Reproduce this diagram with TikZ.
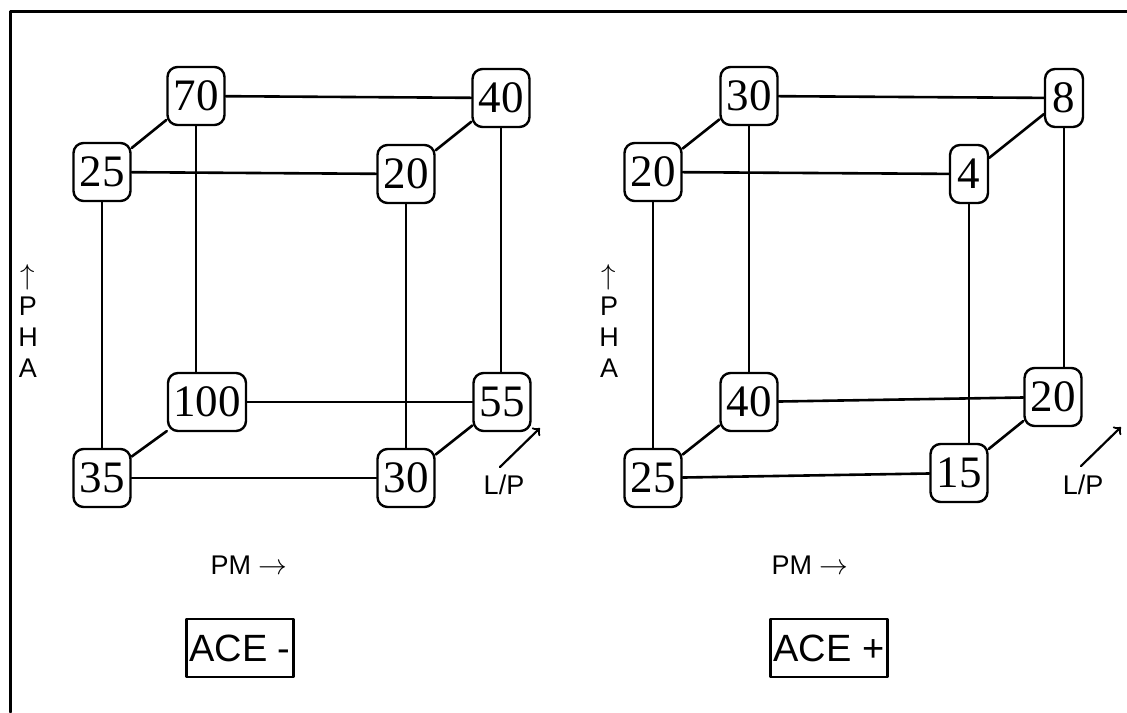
\documentclass[tikz,border=0pt]{standalone}
\usepackage{fontspec}
\setmainfont{Liberation Serif}
\newfontfamily\arialfont{Liberation Sans}
\begin{document}
\begin{tikzpicture}[x=0.5pt, y=-0.5pt, line join=round, line cap=round, >=to,
		val/.style={draw, line width=1.2pt, rounded corners=5pt, inner sep=0pt, minimum height=29pt, minimum width=28.5pt, font=\fontsize{22.5}{22.5}\selectfont},
		slim/.style={val, minimum width=19pt},
		wide/.style={val, minimum width=39pt},
		edge/.style={line width=1.3pt},
		lbl/.style={font=\arialfont\fontsize{13.5}{15.5}\selectfont, align=center, inner sep=0pt},
		tag/.style={draw, line width=1.2pt, inner sep=1.5pt, minimum height=29pt, font=\arialfont\fontsize{19}{19}\selectfont}]
	\useasboundingbox (0,0) rectangle (1127,712);
	\draw[line width=1.5pt] (10,712) -- (10,11) -- (1127,11);
	% ACE - cube
	\node[val] (L-btl) at (196,96) {70};
	\node[val] (L-btr) at (501,98) {40};
	\node[val] (L-ftl) at (102,172) {25};
	\node[val] (L-ftr) at (406,174) {20};
	\node[wide] (L-bbl) at (207,402) {100};
	\node[val] (L-bbr) at (502,402) {55};
	\node[val] (L-fbl) at (102,478) {35};
	\node[val] (L-fbr) at (406,478) {30};
	\draw[edge] (L-btl) -- (L-btr);
	\draw[edge] (L-ftl) -- (L-ftr);
	\draw[edge] (L-bbl) -- (L-bbr);
	\draw[edge] (L-fbl) -- (L-fbr);
	\draw[edge] (L-ftl) -- (L-btl);
	\draw[edge] (L-ftr) -- (L-btr);
	\draw[edge] (L-fbl) -- (L-bbl);
	\draw[edge] (L-fbr) -- (L-bbr);
	\draw[edge] (L-btl) -- (L-btl |- L-bbl.north);
	\draw[edge] (L-btr) -- (L-btr |- L-bbr.north);
	\draw[edge] (L-ftl) -- (L-fbl);
	\draw[edge] (L-ftr) -- (L-ftr |- L-fbr.north);
	\node[lbl] (L-pha) at (28,321) {$\uparrow$\\P\\H\\A};
	\node[lbl] (L-pm) at (249,565) {PM $\rightarrow$};
	\coordinate (L-lp0) at (500,467);
	\coordinate (L-lp1) at (540,428);
	\draw[->, line width=1.1pt] (L-lp0) -- (L-lp1);
	\node[lbl] (L-lp) at (504,485) {L/P};
	\node[tag] (L-ace) at (240,648) {ACE -};
	% ACE + cube
	\node[val] (R-btl) at (749,96) {30};
	\node[slim] (R-btr) at (1064,98) {8};
	\node[val] (R-ftl) at (653,172) {20};
	\node[slim] (R-ftr) at (969,174) {4};
	\node[val] (R-bbl) at (749,402) {40};
	\node[val] (R-bbr) at (1053,397) {20};
	\node[val] (R-fbl) at (653,478) {25};
	\node[val] (R-fbr) at (959,473) {15};
	\draw[edge] (R-btl) -- (R-btr);
	\draw[edge] (R-ftl) -- (R-ftr);
	\draw[edge] (R-bbl) -- (R-bbr);
	\draw[edge] (R-fbl) -- (R-fbr);
	\draw[edge] (R-ftl) -- (R-btl);
	\draw[edge] (R-ftr) -- (R-btr);
	\draw[edge] (R-fbl) -- (R-bbl);
	\draw[edge] (R-fbr) -- (R-bbr);
	\draw[edge] (R-btl) -- (R-btl |- R-bbl.north);
	\draw[edge] (R-btr) -- (R-btr |- R-bbr.north);
	\draw[edge] (R-ftl) -- (R-fbl);
	\draw[edge] (R-ftr) -- (R-ftr |- R-fbr.north);
	\node[lbl] (R-pha) at (609,321) {$\uparrow$\\P\\H\\A};
	\node[lbl] (R-pm) at (810,565) {PM $\rightarrow$};
	\coordinate (R-lp0) at (1081,466);
	\coordinate (R-lp1) at (1121,427);
	\draw[->, line width=1.1pt] (R-lp0) -- (R-lp1);
	\node[lbl] (R-lp) at (1083,485) {L/P};
	\node[tag] (R-ace) at (829,648) {ACE +};
\end{tikzpicture}
\end{document}
